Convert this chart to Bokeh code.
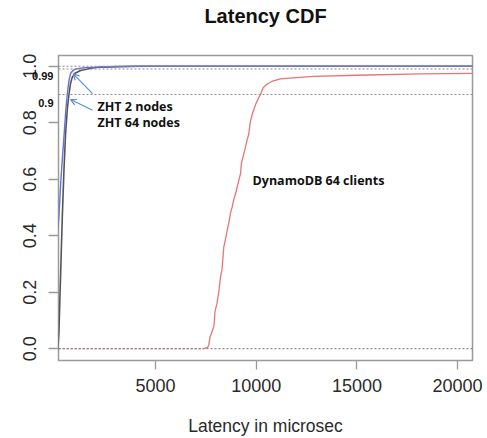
from bokeh.plotting import figure
from bokeh.models import Span, Label, Arrow, OpenHead, FixedTicker, LinearAxis
from bokeh.embed import file_html
from bokeh.resources import INLINE

# ---- data (latency in microseconds, cumulative fraction) ----
zht2_x = [150, 200, 300, 450, 550, 615, 700, 780, 900, 1030, 1500, 3000, 5000, 20740]
zht2_y = [0.42, 0.467, 0.60, 0.75, 0.85, 0.90, 0.95, 0.975, 0.985, 0.99, 0.995, 0.999, 1.0, 1.0]

zht64_x = [150, 200, 280, 370, 450, 530, 620, 700, 780, 860, 1000, 1280, 1800, 2270, 4000, 20740]
zht64_y = [0.0, 0.056, 0.25, 0.47, 0.63, 0.76, 0.85, 0.90, 0.94, 0.96, 0.975, 0.985, 0.993, 0.997, 1.0, 1.0]

dyn_x = [7400, 7600, 7650, 7700, 7800, 7900, 7950, 8050, 8140, 8230, 8300, 8390, 8480, 8560,
         8650, 8720, 8800, 8890, 8980, 9060, 9150, 9220, 9270, 9350, 9470, 9550, 9630, 9700,
         9800, 9970, 10100, 10210, 10350, 10550, 10800, 11210, 12000, 12860, 15000, 18160, 20740]
dyn_y = [0.0, 0.005, 0.015, 0.04, 0.06, 0.08, 0.13, 0.16, 0.20, 0.255, 0.28, 0.36, 0.39, 0.42,
         0.45, 0.48, 0.50, 0.53, 0.55, 0.575, 0.60, 0.62, 0.66, 0.68, 0.715, 0.74, 0.76, 0.80,
         0.83, 0.865, 0.885, 0.90, 0.925, 0.937, 0.947, 0.955, 0.96, 0.964, 0.968, 0.973, 0.975]

ref_levels = [0.0, 0.9, 0.99, 1.0]
ref_labels = ["0.99", "0.9"]
# vertical placement of the level labels (they sit just below their lines)
ref_label_pos = [0.964, 0.869]

x_ticks = [5000, 10000, 15000, 20000]
y_ticks = [0.0, 0.2, 0.4, 0.6, 0.8, 1.0]
y_tick_labels = ["0.0", "0.2", "0.4", "0.6", "0.8", "1.0"]

X0, X1 = 180, 20740

p = figure(width=487, height=438, x_range=(X0, X1), y_range=(-0.042, 1.038),
           output_backend="svg", toolbar_location=None,
           min_border_left=58, min_border_right=15, min_border_top=55, min_border_bottom=77)
p.title = None
p.grid.visible = False
p.background_fill_color = "white"
p.border_fill_color = "white"
p.outline_line_color = "#9a9a9a"
p.outline_line_width = 1.5

GRAY = "#9a9a9a"
TXT = "#2a2a2a"

xax = p.below[0]
yax = p.left[0]

for ax in (xax, yax):
    ax.axis_line_color = None
    ax.major_tick_line_color = GRAY
    ax.major_tick_line_width = 1.3
    ax.major_tick_in = 0
    ax.minor_tick_line_color = None
    ax.major_label_text_font = "Liberation Sans"
    ax.major_label_text_color = TXT
    ax.major_label_text_font_size = "18px"

xax.ticker = FixedTicker(ticks=x_ticks)
xax.major_tick_out = 9
xax.major_label_standoff = 9
xax.axis_label = "Latency in microsec"
xax.axis_label_text_font = "Liberation Sans"
xax.axis_label_text_font_size = "17.5px"
xax.axis_label_text_font_style = "normal"
xax.axis_label_text_color = TXT
xax.axis_label_standoff = 21

yax.ticker = FixedTicker(ticks=y_ticks)
yax.major_label_overrides = {t: l for t, l in zip(y_ticks, y_tick_labels)}
yax.major_tick_out = 10
yax.major_label_standoff = 12
yax.major_label_orientation = "vertical"

# title drawn as the label of a tickless top axis
title_axis = LinearAxis(ticker=FixedTicker(ticks=[]), axis_label="Latency CDF",
                        axis_label_text_font="Liberation Sans", axis_label_text_font_size="20px",
                        axis_label_text_font_style="bold", axis_label_text_color="#111111",
                        axis_label_standoff=29, axis_line_color=None,
                        major_tick_line_color=None, minor_tick_line_color=None,
                        major_tick_out=0, major_tick_in=0, minor_tick_out=0, minor_tick_in=0)
p.add_layout(title_axis, "above")

# level labels "0.99" / "0.9" as an extra (tickless) left axis pulled next to the frame
lv_axis = LinearAxis(ticker=FixedTicker(ticks=ref_label_pos),
                     major_label_overrides={t: l for t, l in zip(ref_label_pos, ref_labels)},
                     axis_line_color=None, major_tick_line_color=None, minor_tick_line_color=None,
                     major_tick_out=0, major_tick_in=0, major_label_standoff=-33,
                     major_label_orientation="horizontal",
                     major_label_text_font="Liberation Sans", major_label_text_font_size="11px",
                     major_label_text_font_style="bold", major_label_text_color="#111111")
p.add_layout(lv_axis, "left")

# reference dotted lines
for lv in ref_levels:
    p.add_layout(Span(location=lv, dimension="width", line_color="#8c8c8c",
                      line_dash="2 2", line_width=1.1))

# red dotted part at zero left of DynamoDB curve
p.line([0, dyn_x[0]], [dyn_y[0], dyn_y[0]], line_color="#e06a6a", line_dash="2 2", line_width=1.1)

p.line(dyn_x, dyn_y, line_color="#e87474", line_width=1.3)
p.line(zht64_x, zht64_y, line_color="#555555", line_width=1.6)
p.line(zht2_x, zht2_y, line_color="#6670d6", line_width=1.4)

# arrows
ARROW = "#5b8fd0"
p.add_layout(Arrow(end=OpenHead(size=6, line_color=ARROW, line_width=1.2),
                   x_start=1872, y_start=0.903, x_end=914, y_end=0.973,
                   line_color=ARROW, line_width=1.2))
p.add_layout(Arrow(end=OpenHead(size=6, line_color=ARROW, line_width=1.2),
                   x_start=1872, y_start=0.844, x_end=780, y_end=0.882,
                   line_color=ARROW, line_width=1.2))

def lab(x, y, t, size):
    p.add_layout(Label(x=x, y=y, text=t, text_font="Open Sans", text_font_size=size,
                       text_font_style="bold", text_color="#111111",
                       text_align="left", text_baseline="alphabetic"))

lab(2120, 0.858, "ZHT 2 nodes", "12.5px")
lab(2120, 0.801, "ZHT 64 nodes", "12.5px")
lab(9816, 0.597, "DynamoDB 64 clients", "12.5px")

open("out.html", "w").write(file_html(p, INLINE))
